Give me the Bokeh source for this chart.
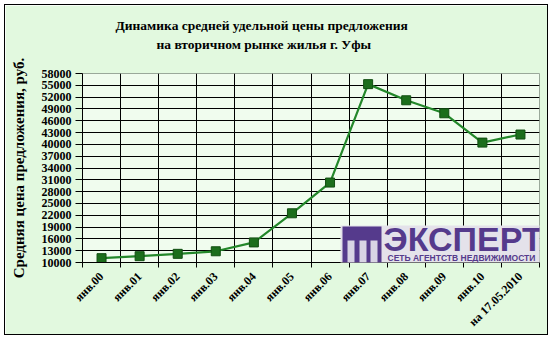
from bokeh.plotting import figure
from bokeh.models import FixedTicker, Range1d, Label, BoxAnnotation, Title
from bokeh.embed import file_html
from bokeh.resources import INLINE

# ---- data ----
labels = ["янв.00", "янв.01", "янв.02", "янв.03", "янв.04", "янв.05",
          "янв.06", "янв.07", "янв.08", "янв.09", "янв.10", "на 17.05.2010"]
prices = [11100, 11600, 12200, 12850, 15100, 22500,
          30300, 55300, 51200, 47900, 40450, 42500]
y_ticks = [10000, 13000, 16000, 19000, 22000, 25000, 28000, 31000, 34000,
           37000, 40000, 43000, 46000, 49000, 52000, 55000, 58000]
title_lines = ["Динамика средней удельной цены предложения",
               "на вторичном рынке жилья г. Уфы"]
y_title = "Средняя цена предложения, руб."

n = len(labels)
xs = list(range(n))
bounds = [i - 0.5 for i in range(n + 1)]

SERIF = "Liberation Serif"
PURPLE = "#553a8c"

p = figure(width=544, height=331, output_backend="svg", toolbar_location=None,
           x_range=Range1d(-0.5, n - 0.5), y_range=Range1d(y_ticks[0], y_ticks[-1]),
           min_border_left=77, min_border_right=10, min_border_top=68, min_border_bottom=73,
           background_fill_color="#f0fcee", border_fill_color="#e2f9df")
p.margin = (4, 0, 0, 4)
p.styles = {"border": "1px solid black"}
p.outline_line_color = "#9aa89a"

# titles (stacked above the frame: spacer, line 2, line 1)
title_kw = dict(align="left", text_font=SERIF, text_font_style="bold",
                text_font_size="13.5px", text_color="black")
p.add_layout(Title(text=" ", standoff=5, **title_kw), "above")
p.add_layout(Title(text=title_lines[1], offset=74, standoff=0, **title_kw), "above")
p.add_layout(Title(text=title_lines[0], offset=33, standoff=4, **title_kw), "above")

# grids
p.xgrid.ticker = FixedTicker(ticks=bounds[1:-1])
p.ygrid.ticker = FixedTicker(ticks=y_ticks)
for g in (p.xgrid, p.ygrid):
    g.grid_line_color = "black"
    g.grid_line_width = 1

# x axis
p.xaxis.ticker = FixedTicker(ticks=xs, minor_ticks=bounds)
p.xaxis.major_label_overrides = {i: lab for i, lab in zip(xs, labels)}
p.xaxis.major_tick_line_color = None
p.xaxis.major_tick_out = 5
p.xaxis.minor_tick_line_color = "black"
p.xaxis.minor_tick_out = 5
p.xaxis.minor_tick_in = 0
p.xaxis.major_label_orientation = 0.785398
p.xaxis.major_label_standoff = 7
p.xaxis.axis_line_color = "black"

# y axis
p.yaxis.ticker = FixedTicker(ticks=y_ticks)
p.yaxis.major_label_overrides = {t: str(t) for t in y_ticks}
p.yaxis.minor_tick_line_color = None
p.yaxis.major_tick_out = 7
p.yaxis.major_tick_in = 0
p.yaxis.major_label_standoff = 4
p.yaxis.axis_label = y_title
p.yaxis.axis_label_standoff = 12
p.yaxis.axis_line_color = "black"

for ax in (p.xaxis, p.yaxis):
    ax.major_label_text_font = SERIF
    ax.major_label_text_font_style = "bold"
    ax.major_label_text_font_size = "12px"
    ax.major_label_text_color = "black"
    ax.axis_label_text_font = SERIF
    ax.axis_label_text_font_style = "bold"
    ax.axis_label_text_font_size = "15px"
    ax.axis_label_text_color = "black"

# series
p.line(xs, prices, line_color="#23872a", line_width=2.2)
p.scatter(xs, prices, marker="square", size=9, fill_color="#1c6e1c", line_color="#124f12")

# logo (screen units relative to the plot frame)
def box(l, r, t, b, color):
    return BoxAnnotation(left=l, right=r, top=t, bottom=b,
                         left_units="screen", right_units="screen",
                         top_units="screen", bottom_units="screen",
                         fill_color=color, fill_alpha=1, line_color=None)

p.add_layout(box(258, 459, 37, -2, "#e4e2ea"))
p.add_layout(box(260, 299, 36, 0, PURPLE))
for ax0 in (265, 277, 288):
    p.add_layout(box(ax0, ax0 + 7, 22, 0, "#d8d4e4"))
p.add_layout(Label(x=301, y=24, x_units="screen", y_units="screen", text="ЭКСПЕРТ",
                   text_align="left", text_baseline="middle",
                   text_font="Liberation Sans", text_font_style="bold",
                   text_font_size="34px", text_color=PURPLE))
p.add_layout(Label(x=305, y=5, x_units="screen", y_units="screen",
                   text="СЕТЬ АГЕНТСТВ НЕДВИЖИМОСТИ",
                   text_align="left", text_baseline="middle",
                   text_font="Liberation Sans", text_font_style="bold",
                   text_font_size="8.5px", text_color=PURPLE))

open("out.html", "w").write(file_html(p, INLINE))
